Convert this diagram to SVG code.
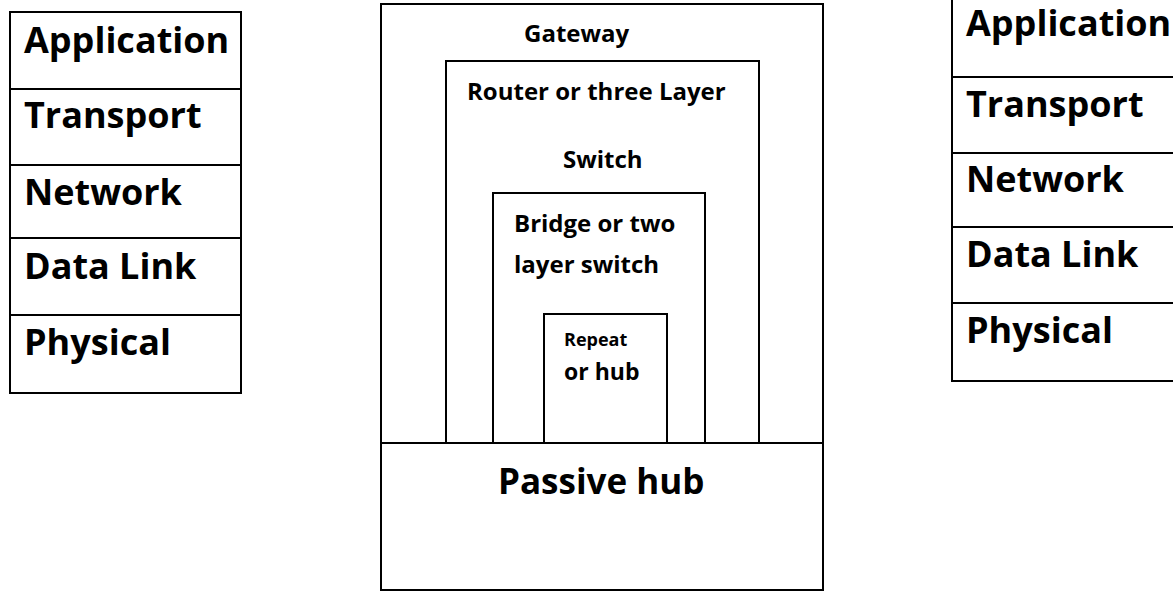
<svg xmlns="http://www.w3.org/2000/svg" width="1173" height="592" viewBox="0 0 1173 592">
<style>
.box{fill:none;stroke:#000;stroke-width:2}
.t{font-family:"Open Sans","Liberation Sans",sans-serif;font-weight:bold;fill:#000}
.big{font-size:36px}
.mid{font-size:24px}
.sm{font-size:18px}
</style>
<rect width="1173" height="592" fill="#fff"/>
<g id="left-stack">
<rect class="box" x="10" y="12" width="231" height="381"/>
<line class="box" x1="10" y1="89" x2="241" y2="89"/>
<line class="box" x1="10" y1="165" x2="241" y2="165"/>
<line class="box" x1="10" y1="238" x2="241" y2="238"/>
<line class="box" x1="10" y1="315" x2="241" y2="315"/>
<text class="t big" x="24" y="53">Application</text>
<text class="t big" x="24" y="128">Transport</text>
<text class="t big" x="24" y="205">Network</text>
<text class="t big" x="24" y="279">Data Link</text>
<text class="t big" x="24" y="355">Physical</text>
</g>
<g id="gateway">
<rect class="box" x="381" y="4" width="442" height="586"/>
<text class="t mid" x="524" y="42">Gateway</text>
</g>
<g id="router">
<rect class="box" x="446" y="61" width="313" height="382"/>
<text class="t mid" x="467" y="100">Router or three Layer</text>
<text class="t mid" x="563" y="168">Switch</text>
</g>
<g id="bridge">
<rect class="box" x="493" y="193" width="212" height="250"/>
<text class="t mid" x="514" y="232">Bridge or two</text>
<text class="t mid" x="514" y="273">layer switch</text>
</g>
<g id="repeater">
<rect class="box" x="544" y="314" width="123" height="129"/>
<text class="t sm" x="564" y="346">Repeat</text>
<text class="t" style="font-size:23px" x="564" y="380">or hub</text>
</g>
<g id="passive-hub">
<line class="box" x1="381" y1="443" x2="823" y2="443"/>
<text class="t" style="font-size:35px" x="498" y="494">Passive hub</text>
</g>
<g id="right-stack">
<rect class="box" x="952" y="-5" width="240" height="386"/>
<line class="box" x1="952" y1="77" x2="1173" y2="77"/>
<line class="box" x1="952" y1="153" x2="1173" y2="153"/>
<line class="box" x1="952" y1="227" x2="1173" y2="227"/>
<line class="box" x1="952" y1="303" x2="1173" y2="303"/>
<text class="t big" x="966" y="36">Application</text>
<text class="t big" x="966" y="117">Transport</text>
<text class="t big" x="966" y="192">Network</text>
<text class="t big" x="966" y="267">Data Link</text>
<text class="t big" x="966" y="343">Physical</text>
</g>
<g id="connectors"></g>
</svg>
